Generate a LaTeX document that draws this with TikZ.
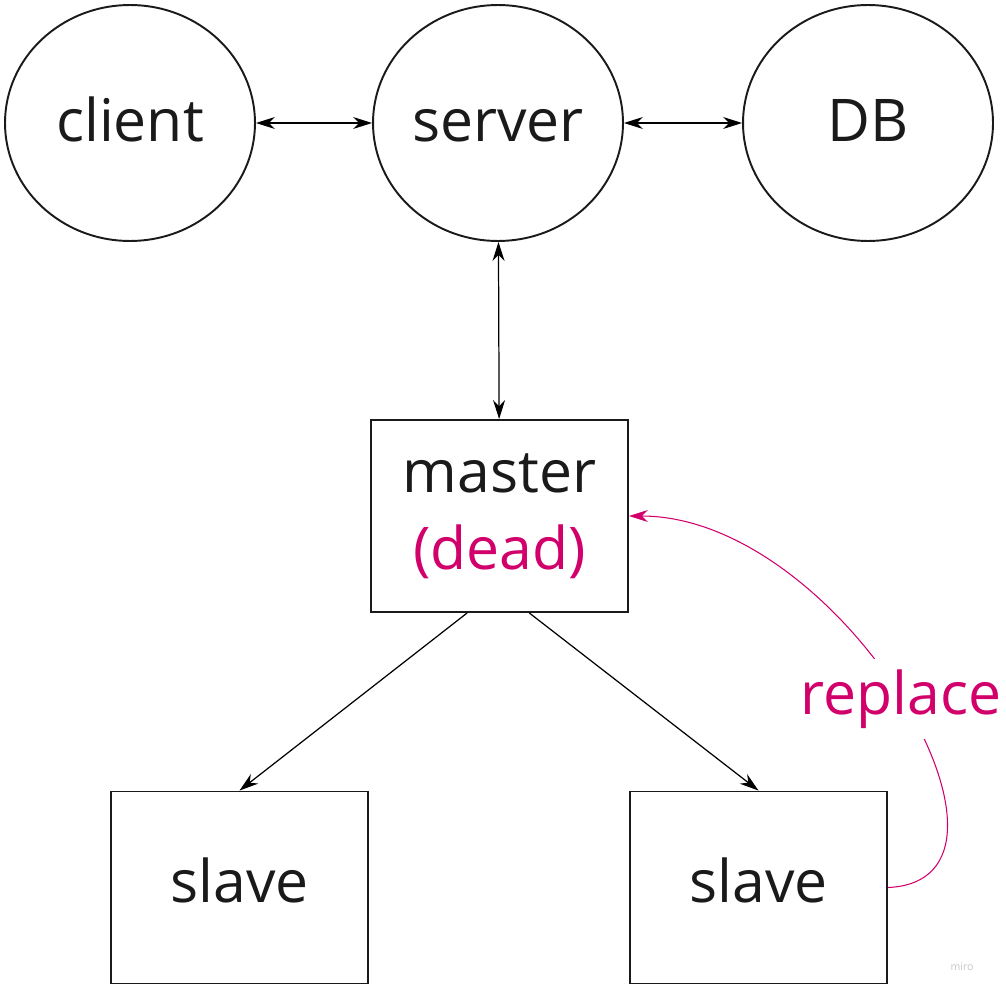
\documentclass[tikz,border=0pt]{standalone}
\usepackage{fontspec}
\setmainfont{Open Sans}
\usepackage{xcolor}
\usepackage{tikz}
\usetikzlibrary{calc, shapes.geometric, arrows.meta}

\definecolor{deadred}{HTML}{D1006B}
\definecolor{inkgrey}{HTML}{1A1A1A}

\begin{document}
\begin{tikzpicture}[x = 0.02cm, y = -0.02cm,
		>={Stealth[length = 0.38cm, width = 0.24cm]},
		bubble/.style = {ellipse, draw = inkgrey, line width = 1.1pt, minimum width = 5cm, minimum height = 4.72cm, inner sep = 0pt},
		block/.style = {rectangle, draw = inkgrey, line width = 1.1pt, minimum width = 5.14cm, minimum height = 3.84cm, inner sep = 0pt},
		big/.style = {font = \fontsize{33.5}{44}\selectfont, text = inkgrey},
		oneline/.style = {text height = #1, text depth = 0pt},
		oneline/.default = 21pt]
			\useasboundingbox (0,0) rectangle (1006,993);

			\begin{scope}
				\node [bubble, big, oneline] (client) at (130,123) {client};
				\node [bubble, big, oneline] (server) at (498,123) {server};
				\node [bubble, big, oneline] (db) at (868,123) {DB};
			\end{scope}

			\begin{scope}
				\node [block, big, align = center] (master) at (499.5,516) {master\\\textcolor{deadred}{(dead)}};
				\node [block, big, oneline = 17.5pt] (slaveL) at (239.5,887.5) {slave};
				\node [block, big, oneline = 17.5pt] (slaveR) at (758.5,887.5) {slave};
			\end{scope}

			\begin{scope}[<->, line width = 0.7pt]
				\draw (client) -- (server);
				\draw (server) -- (db);
				\draw (server) -- (master);
			\end{scope}

			\begin{scope}[->, line width = 0.7pt]
				\draw ($(master.south west)!0.375!(master.south east)$) -- (slaveL.north);
				\draw ($(master.south west)!0.615!(master.south east)$) -- (slaveR.north);
			\end{scope}

			\draw [->, deadred, line width = 0.6pt] (slaveR.east) .. controls +(165,-7) and +(215,0) .. (master.east)
				node [pos = 0.5, big, text = deadred, fill = white, inner sep = 6pt] (replace) {replace};

			\node [text = black!22, font = \fontsize{6}{7}\selectfont] (miro) at (962,967) {miro};
		\end{tikzpicture}
\end{document}
